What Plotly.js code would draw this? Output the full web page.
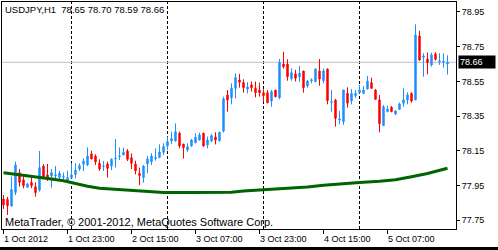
<!DOCTYPE html>
<html><head><meta charset="utf-8">
<script src="https://cdn.plot.ly/plotly-3.0.1.min.js"></script>
<style>html,body{margin:0;padding:0;background:#000;overflow:hidden;} #chart{width:498px;height:247px;background:#fff;}</style>
</head><body><div id="chart"></div>
<script>
const symbolTitle = "USDJPY,H1";
const headerValues = ["78.65", "78.70", "78.59", "78.66"];
const watermark = "MetaTrader, \u00a9 2001-2012, MetaQuotes Software Corp.";

const opens = [77.872,77.870,77.832,77.910,78.024,77.982,77.940,77.968,77.943,77.924,
78.062,78.011,78.005,78.005,77.997,77.997,77.978,77.995,78.014,78.045,
78.072,78.068,78.132,78.120,78.078,78.059,78.074,78.062,78.103,78.116,
78.126,78.149,78.110,78.074,78.020,77.995,78.074,78.087,78.105,78.112,
78.141,78.178,78.207,78.207,78.251,78.189,78.155,78.178,78.197,78.212,
78.251,78.183,78.207,78.230,78.207,78.264,78.472,78.456,78.510,78.558,
78.543,78.506,78.529,78.510,78.500,78.485,78.485,78.437,78.500,78.456,
78.650,78.650,78.566,78.593,78.577,78.610,78.524,78.554,78.549,78.610,
78.554,78.621,78.429,78.443,78.328,78.318,78.481,78.437,78.468,78.485,
78.481,78.506,78.543,78.500,78.443,78.295,78.376,78.401,78.362,78.389,
78.424,78.443,78.481,78.443,78.812,78.689,78.679,78.645,78.708,78.664,
78.660,78.65];
const highs = [77.895,77.884,78.001,78.087,78.045,78.001,77.965,78.011,77.968,78.149,
78.074,78.074,78.045,78.062,78.034,78.024,78.034,78.078,78.078,78.078,
78.107,78.170,78.151,78.130,78.101,78.091,78.087,78.107,78.218,78.170,
78.168,78.160,78.135,78.093,78.053,78.068,78.120,78.136,78.164,78.187,
78.193,78.232,78.260,78.308,78.260,78.189,78.193,78.218,78.251,78.255,
78.255,78.232,78.247,78.257,78.260,78.462,78.500,78.539,78.597,78.593,
78.562,78.545,78.549,78.549,78.543,78.504,78.500,78.500,78.500,78.679,
78.721,78.677,78.625,78.616,78.639,78.610,78.558,78.568,78.625,78.679,
78.625,78.625,78.500,78.449,78.379,78.500,78.516,78.506,78.500,78.529,
78.523,78.581,78.571,78.506,78.472,78.414,78.410,78.408,78.385,78.428,
78.510,78.487,78.487,78.879,78.842,78.712,78.716,78.716,78.718,78.712,
78.712,78.70];
const lows = [77.815,77.780,77.828,77.895,77.943,77.934,77.935,77.934,77.886,77.914,
77.987,77.976,77.937,77.982,77.987,77.976,77.972,77.991,77.991,78.034,
78.034,78.062,78.101,78.068,78.034,78.034,77.995,78.039,78.053,78.097,
78.126,78.091,78.045,78.014,77.953,77.966,78.020,78.068,78.093,78.107,
78.126,78.155,78.189,78.203,78.164,78.105,78.145,78.174,78.193,78.208,
78.174,78.164,78.199,78.187,78.205,78.255,78.376,78.418,78.452,78.514,
78.485,78.481,78.491,78.458,78.462,78.433,78.424,78.404,78.458,78.447,
78.625,78.554,78.554,78.549,78.548,78.485,78.514,78.539,78.545,78.525,
78.539,78.418,78.376,78.289,78.303,78.299,78.399,78.418,78.456,78.481,
78.477,78.504,78.506,78.443,78.256,78.295,78.372,78.372,78.356,78.385,
78.404,78.418,78.427,78.443,78.668,78.577,78.591,78.635,78.670,78.645,
78.629,78.59];
const closes = [77.838,77.833,77.927,78.068,77.968,77.949,77.959,77.949,77.909,78.053,
77.997,77.991,78.024,78.011,78.020,78.001,77.995,78.011,78.039,78.064,
78.091,78.120,78.103,78.087,78.045,78.062,78.049,78.101,78.107,78.120,
78.141,78.101,78.078,78.035,78.007,78.062,78.103,78.120,78.111,78.143,
78.174,78.203,78.220,78.260,78.178,78.168,78.174,78.212,78.228,78.241,
78.178,78.212,78.237,78.212,78.257,78.449,78.443,78.510,78.572,78.545,
78.514,78.518,78.514,78.485,78.485,78.468,78.427,78.491,78.462,78.660,
78.635,78.577,78.600,78.568,78.597,78.514,78.552,78.558,78.621,78.564,
78.610,78.439,78.433,78.337,78.333,78.500,78.424,78.481,78.481,78.500,
78.500,78.552,78.510,78.447,78.306,78.404,78.391,78.376,78.379,78.420,
78.443,78.472,78.437,78.817,78.673,78.696,78.658,78.702,78.677,78.668,
78.664,78.66];

// moving average read at selected bars
const maBars   = [0,3,6,9,12,15,17,19,21,24,28,32,36,40,48,57,60,65,70,76,80,84,89,94,98,102,106,111];
const maValues = [78.024,78.016,78.008,77.999,77.988,77.977,77.966,77.955,77.946,77.934,77.927,77.922,77.914,77.910,77.910,77.911,77.918,77.925,77.931,77.942,77.952,77.960,77.968,77.975,77.983,78.000,78.019,78.049];

const timeTickBars = [0,16,32,48,64,80,96];
const timeTickLabels = ["1 Oct 2012","1 Oct 23:00","2 Oct 15:00","3 Oct 07:00","3 Oct 23:00","4 Oct 15:00","5 Oct 07:00"];
const daySeparatorBars = [17,41,65,89];
const priceTicks = [77.75,77.95,78.15,78.35,78.55,78.75,78.95];

const xs = opens.map((_, i) => i);
const lastClose = closes[closes.length - 1];
const FONT = "Liberation Sans, Arial, sans-serif";

const traces = [
  {
    type: 'candlestick', x: xs, open: opens, high: highs, low: lows, close: closes,
    increasing: {line: {color: '#1E90FF', width: 1}, fillcolor: '#1E90FF'},
    decreasing: {line: {color: '#FF0000', width: 1}, fillcolor: '#FF0000'},
    whiskerwidth: 0, hoverinfo: 'skip', showlegend: false
  },
  {
    type: 'scatter', mode: 'lines', x: maBars, y: maValues,
    line: {color: '#006400', width: 3}, hoverinfo: 'skip', showlegend: false
  }
];

const shapes = daySeparatorBars.map(b => ({
  type: 'line', xref: 'x', yref: 'paper', x0: b, x1: b, y0: 0, y1: 1,
  line: {color: '#000', width: 1, dash: '3px,2px'}, layer: 'below'
}));
shapes.push({type: 'line', xref: 'paper', yref: 'y', x0: 0, x1: 1, y0: lastClose, y1: lastClose,
  line: {color: '#C0C0C0', width: 1}, layer: 'below'});

const annotations = timeTickBars.map((b, i) => ({
  x: b, xref: 'x', y: 0, yref: 'paper', yanchor: 'top', xanchor: 'left',
  xshift: -2, yshift: -3, showarrow: false, text: timeTickLabels[i],
  font: {family: FONT, size: 9, color: '#000'}
}));
annotations.push({
  x: 0, xref: 'paper', y: 1, yref: 'paper', xanchor: 'left', yanchor: 'top',
  xshift: 1, yshift: 0, showarrow: false,
  text: symbolTitle + '\u00a0\u00a0' + headerValues.join(' '),
  font: {family: FONT, size: 9.5, color: '#000'}
});
annotations.push({
  x: 0, xref: 'paper', y: 0, yref: 'paper', xanchor: 'left', yanchor: 'bottom',
  xshift: 1, yshift: -1, showarrow: false, text: watermark,
  font: {family: FONT, size: 11, color: '#000'}
});
annotations.push({
  x: 1, xref: 'paper', y: lastClose, yref: 'y', xanchor: 'left', yanchor: 'middle',
  xshift: 2, showarrow: false, text: lastClose.toFixed(2), bgcolor: '#000',
  width: 34, align: 'left', borderpad: 1,
  font: {family: FONT, size: 9, color: '#fff'}
});

const layout = {
  width: 498, height: 247,
  margin: {l: 2, r: 42, t: 2, b: 18, pad: 0},
  paper_bgcolor: '#fff', plot_bgcolor: '#fff',
  showlegend: false, boxgap: 0.5,
  xaxis: {
    range: [-0.375, 113.125], showgrid: false, zeroline: false,
    showline: true, mirror: true, linecolor: '#000', linewidth: 1,
    ticks: 'outside', ticklen: 4, tickcolor: '#000', tickwidth: 1,
    tickvals: timeTickBars, showticklabels: false,
    rangeslider: {visible: false}, fixedrange: true
  },
  yaxis: {
    range: [77.6993, 79.0076], side: 'right', showgrid: false, zeroline: false,
    showline: true, mirror: true, linecolor: '#000', linewidth: 1,
    ticks: 'outside', ticklen: 3, tickcolor: '#000', tickwidth: 1,
    tickvals: priceTicks, ticktext: priceTicks.map(v => v.toFixed(2)),
    tickfont: {family: FONT, size: 9, color: '#000'}, fixedrange: true
  },
  shapes: shapes,
  annotations: annotations
};

Plotly.newPlot('chart', traces, layout, {staticPlot: true, displayModeBar: false});
</script>
</body></html>
